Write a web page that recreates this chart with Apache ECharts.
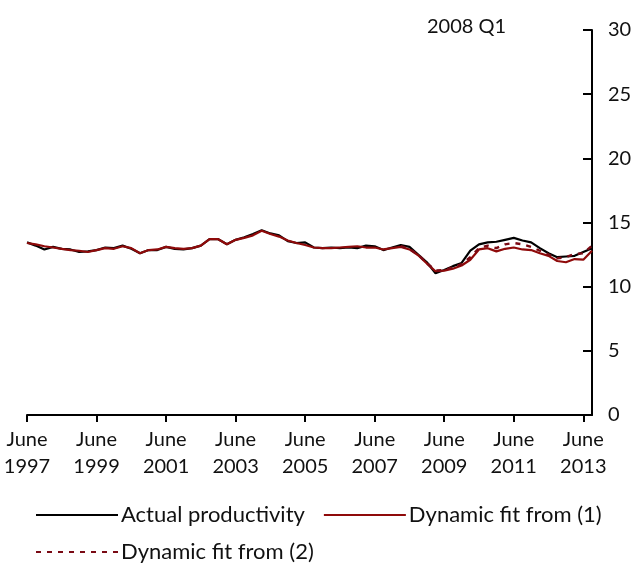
<!DOCTYPE html>
<html><head><meta charset="utf-8">
<script src="https://cdn.jsdelivr.net/npm/echarts@6/dist/echarts.min.js"></script>
<style>html,body{margin:0;padding:0;background:#fff}#c{width:636px;height:563px}</style>
</head><body><div id="c"></div>
<script>
// Quarterly categories 1997 Q2 .. 2013 Q3
const categories = [];
for (let y = 1997; y <= 2013; y++) {
  for (let q = 1; q <= 4; q++) {
    if (y === 1997 && q < 2) continue;
    if (y === 2013 && q > 3) continue;
    categories.push(y + ' Q' + q);
  }
}
const actual = [13.45,13.2,12.9,13.1,12.95,12.9,12.7,12.75,12.85,13.05,13.0,13.2,12.95,12.6,12.85,12.85,
  13.1,12.95,12.9,13.0,13.2,13.7,13.7,13.3,13.65,13.85,14.1,14.4,14.15,14.0,13.55,13.4,
  13.45,13.05,13.0,13.05,13.0,13.05,13.0,13.2,13.15,12.85,13.05,13.25,13.1,12.5,11.9,11.05,
  11.3,11.6,11.85,12.8,13.3,13.45,13.5,13.65,13.8,13.6,13.45,13.0,12.6,12.3,12.35,12.4,12.7,13.0];
const fit1 = [13.4,13.3,13.15,13.05,12.95,12.85,12.8,12.7,12.85,13.0,12.95,13.15,13.0,12.6,12.85,12.9,
  13.1,13.0,12.95,13.0,13.2,13.7,13.7,13.3,13.65,13.8,14.0,14.35,14.1,13.9,13.6,13.4,
  13.25,13.05,13.0,13.0,13.05,13.1,13.15,13.05,13.05,12.9,13.0,13.1,12.9,12.45,11.8,11.2,
  11.25,11.4,11.65,12.1,12.9,13.0,12.75,12.95,13.05,12.9,12.85,12.6,12.4,12.0,11.9,12.15,12.1,12.8];
const fit2 = [null,null,null,null,null,null,null,null,null,null,null,null,null,null,null,null,
  null,null,null,null,null,null,null,null,null,null,null,null,null,null,null,null,
  null,null,null,null,null,null,null,null,null,null,null,13.15,12.95,12.5,11.85,11.25,
  11.3,11.5,11.75,12.3,13.0,13.2,13.0,13.3,13.4,13.3,13.1,12.8,12.5,12.2,12.3,12.55,12.6,13.2];
const yTicks = [0,5,10,15,20,25,30];
const seriesNames = ['Actual productivity','Dynamic fit from (1)','Dynamic fit from (2)'];
const annotation = '2008 Q1';

const FONT = 'Lato';
const TXT = '#111';
const chart = echarts.init(document.getElementById('c'));
chart.setOption({
  animation: false,
  textStyle: {fontFamily: FONT, color: TXT},
  grid: {left: 27, right: 44, top: 30, bottom: 148, containLabel: false},
  xAxis: {
    type: 'category', data: categories, boundaryGap: false,
    axisLine: {lineStyle: {color: '#000', width: 2}},
    axisTick: {interval: 7, length: 7, lineStyle: {color: '#000', width: 2}},
    axisLabel: {interval: 7, margin: 11, fontSize: 20, lineHeight: 27, color: TXT, fontFamily: FONT,
      formatter: v => 'June\n' + v.slice(0, 4)},
    splitLine: {show: false}
  },
  yAxis: {
    type: 'value', position: 'right', min: yTicks[0], max: yTicks[yTicks.length-1], interval: 5,
    axisLine: {show: true, lineStyle: {color: '#000', width: 2}},
    axisTick: {show: true, inside: true, length: 9, lineStyle: {color: '#000', width: 2}},
    axisLabel: {margin: 16, fontSize: 20, color: TXT, fontFamily: FONT},
    splitLine: {show: false}
  },
  legend: [
    {data: [seriesNames[0], seriesNames[1]], left: 30, top: 499, itemWidth: 82, itemHeight: 14, itemGap: 18,
     itemStyle: {opacity: 0},
     textStyle: {fontSize: 22, color: TXT, fontFamily: FONT, padding: [0,0,0,-2]}},
    {data: [seriesNames[2]], left: 30, top: 536, itemWidth: 82, itemHeight: 14,
     itemStyle: {opacity: 0},
     textStyle: {fontSize: 22, color: TXT, fontFamily: FONT, padding: [0,0,0,-2]}}
  ],
  graphic: [{type: 'text', left: 427, top: 17, style: {text: annotation, fontSize: 20, fontFamily: FONT, fill: TXT}}],
  series: [
    {name: seriesNames[0], type: 'line', data: actual, symbol: 'none', lineStyle: {color: '#000', width: 2.2}, itemStyle: {color: '#000'}, z: 2},
    {name: seriesNames[1], type: 'line', data: fit1, symbol: 'none', lineStyle: {color: '#8f0a0a', width: 2.2}, itemStyle: {color: '#8f0a0a'}, z: 3},
    {name: seriesNames[2], type: 'line', data: fit2, symbol: 'none', lineStyle: {color: '#7a0a14', width: 2.4, type: [5,6]}, itemStyle: {color: '#7a0a14'}, z: 4}
  ]
});
</script></body></html>
